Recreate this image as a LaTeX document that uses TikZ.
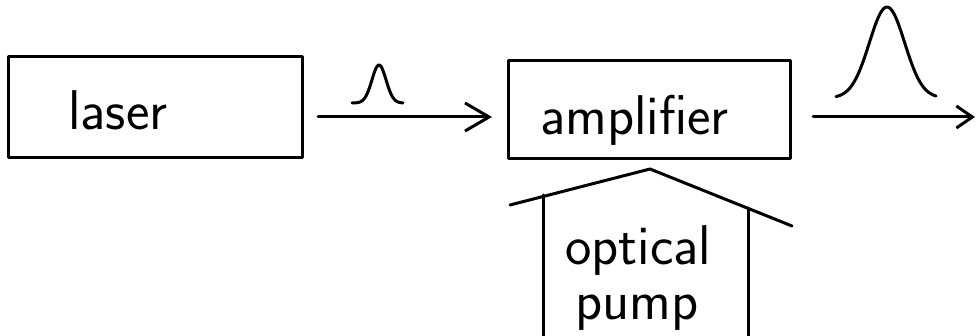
\documentclass[tikz,border=0pt]{standalone}
\usetikzlibrary{arrows.meta}
\begin{document}
\begin{tikzpicture}[x=1pt,y=-1pt,
  ink/.style={line width=3pt, line cap=round, line join=round},
  box/.style={ink, draw, rectangle, inner sep=0pt},
  hand/.style={inner sep=0pt, anchor=base west, font=\sffamily\fontsize{56}{60}\selectfont},
  arr/.style={ink, -{Straight Barb[length=24pt,width=28pt,line width=3pt]}},
  arrsmall/.style={ink, -{Straight Barb[length=16pt,width=22pt,line width=3pt]}}]
\useasboundingbox (0,0) rectangle (977,336);
% boxes
\node[box, minimum width=294pt, minimum height=101pt] (laser) at (155,107.5) {};
\node[box, minimum width=282pt, minimum height=98pt] (amp) at (649,110) {};
% texts
\node[hand] (lasertext) at (68,130) {laser};
\node[hand] (amptext) at (540,135) {amplifier};
\node[hand] (opt) at (565,265) {optical};
\node[hand] (pump) at (575,320) {pump};
% arrows
\coordinate (a1s) at (318,117);
\coordinate (a1e) at (492,117);
\coordinate (a2s) at (813,117);
\coordinate (a2e) at (975,117);
\draw[arr] (a1s) -- (a1e);
\draw[arrsmall] (a2s) -- (a2e);
% pulses
\draw[ink] plot[domain=352:403, samples=60, smooth] (\x, {103-38*exp(-((\x-379)/10)^2)});
\draw[ink] plot[domain=836:936, samples=80, smooth] (\x, {98-91*exp(-((\x-887)/25)^2)});
% pump housing
\coordinate (rl) at (510,205);
\coordinate (apex) at (650,169);
\coordinate (rr) at (792,226);
\coordinate (wlt) at (543,195);
\coordinate (wlb) at (543,340);
\coordinate (wrt) at (748,208);
\coordinate (wrb) at (748,340);
\draw[ink] (rl) -- (apex) -- (rr);
\draw[ink] (wlt) -- (wlb);
\draw[ink] (wrt) -- (wrb);
\end{tikzpicture}
\end{document}
